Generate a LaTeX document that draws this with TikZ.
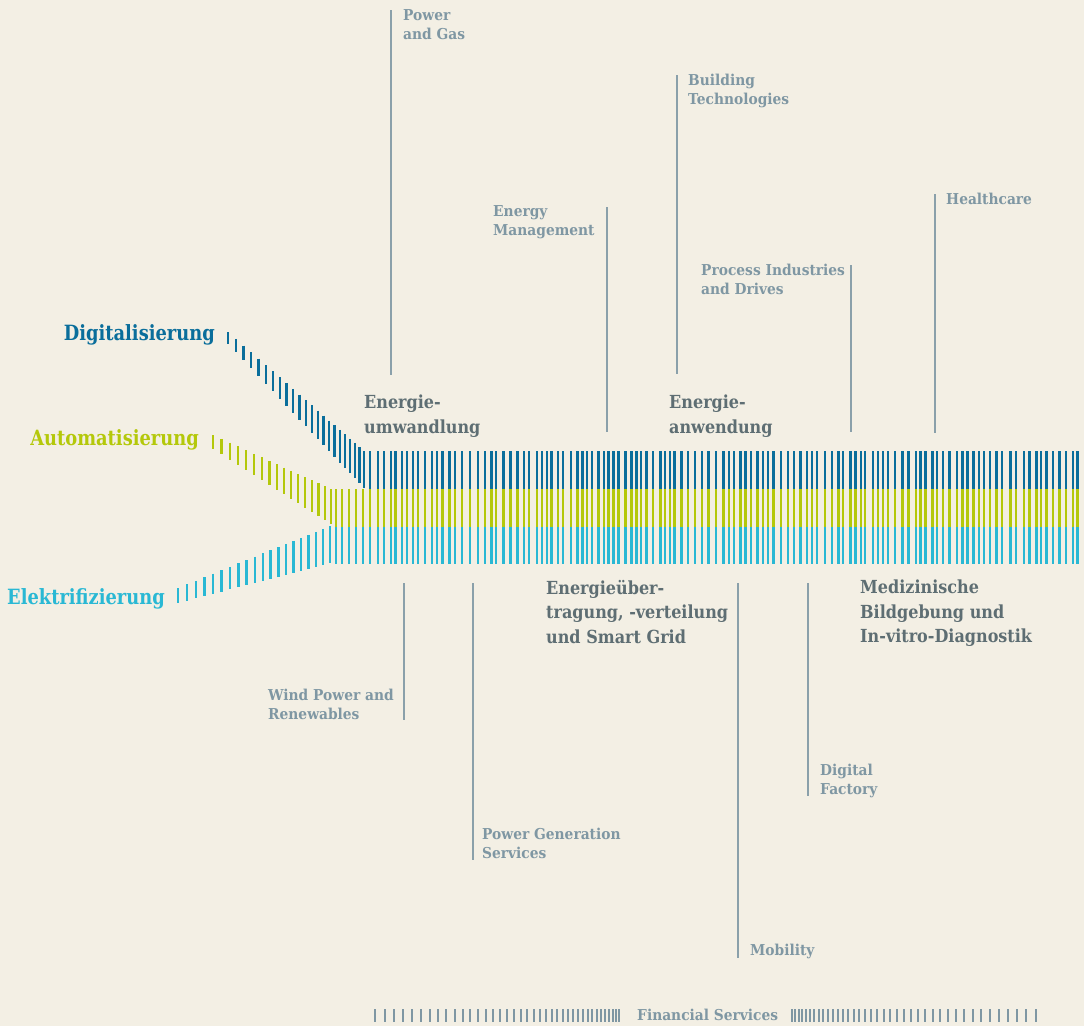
\documentclass[tikz,border=0pt]{standalone}
\usepackage{fontspec}
\setmainfont{DejaVu Serif}[FakeStretch=0.85]
\newfontfamily\smallfam{DejaVu Serif}[FakeStretch=0.92]
\newfontfamily\medfam{DejaVu Serif}[FakeStretch=0.89]
\definecolor{bgc}{HTML}{F3EFE4}
\definecolor{dblue}{HTML}{0A6E9B}
\definecolor{lgreen}{HTML}{B4C80A}
\definecolor{cyanb}{HTML}{29B8D4}
\definecolor{smallc}{HTML}{7F97A3}
\definecolor{medc}{HTML}{5E6E73}
\definecolor{linec}{HTML}{8AA0AA}
\tikzset{
  smalllabel/.style={anchor=north west, inner sep=0pt, align=left, text=smallc,
    font=\smallfam\fontsize{15}{19}\selectfont\bfseries},
  medlabel/.style={anchor=north west, inner sep=0pt, align=left, text=medc,
    font=\medfam\fontsize{18}{24.5}\selectfont\bfseries},
  biglabel/.style={anchor=north east, inner sep=0pt,
    font=\fontsize{21}{25}\selectfont\bfseries},
  leader/.style={draw=linec, line width=1.5pt},
  tick/.style={line width=2.4pt},
  fintick/.style={line width=2pt, draw=smallc}
}
\begin{document}
\begin{tikzpicture}[x=1pt,y=-1pt]
\fill[bgc] (0,0) rectangle (1084,1026);
\useasboundingbox (0,0) rectangle (1084,1026);
\clip (0,0) rectangle (1084,1026);

% ---- diagonal feeds ----
\foreach \k in {0,...,22}{
  \pgfmathsetmacro\t{\k/22}
  \pgfmathsetmacro\f{(9*\t-2*\t*\t)/7}
  \draw[tick,dblue] ({228+136*\f},{332+119*\f}) -- ({228+136*\f},{344+144*\f});
}
\foreach \k in {0,...,16}{
  \pgfmathsetmacro\t{\k/16}
  \pgfmathsetmacro\f{(9*\t-1.25*\t*\t)/7.75}
  \draw[tick,lgreen] ({213+118*\f},{435+54*\f}) -- ({213+118*\f},{449+75*\f});
}
\foreach \k in {0,...,19}{
  \pgfmathsetmacro\t{\k/19}
  \pgfmathsetmacro\f{(9*\t-\t*\t)/8}
  \draw[tick,cyanb] ({178+152*\f},{588-62*\f}) -- ({178+152*\f},{603-40*\f});
}
\foreach \x in {336,342,349,356,363}{
  \draw[tick,lgreen] (\x,489) -- (\x,527);
  \draw[tick,cyanb] (\x,527) -- (\x,564);
}
% ---- main band ----
\pgfmathsetseed{11}
\foreach \i [remember=\nx as \px (initially 363), evaluate=\i as \nx using {\px+4.2+4.2*rnd}] in {1,...,125}{
  \draw[tick,dblue] (\nx,451) -- (\nx,489);
  \draw[tick,lgreen] (\nx,489) -- (\nx,527);
  \draw[tick,cyanb] (\nx,527) -- (\nx,564);
}

% ---- big labels ----
\node[biglabel,text=dblue] (dig) at (215,324) {Digitalisierung};
\node[biglabel,text=lgreen] (aut) at (199,429) {Automatisierung};
\node[biglabel,text=cyanb] (ele) at (165,588) {Elektrifizierung};

% ---- medium labels ----
\node[medlabel] (umw) at (364,395) {Energie-\\umwandlung};
\node[medlabel] (anw) at (669,395) {Energie-\\anwendung};
\node[medlabel] (ueb) at (546,580) {Energieüber-\\tragung, -verteilung\\und Smart Grid};
\node[medlabel] (med) at (860,580) {Medizinische\\Bildgebung und\\In-vitro-Diagnostik};

% ---- small labels and leaders ----
\node[smalllabel] (pg) at (403,9) {Power\\and Gas};
\coordinate (pgA) at (391,10); \coordinate (pgB) at (391,375);
\draw[leader] (pgA) -- (pgB);

\node[smalllabel] (bt) at (688,74) {Building\\Technologies};
\coordinate (btA) at (677,75); \coordinate (btB) at (677,374);
\draw[leader] (btA) -- (btB);

\node[smalllabel] (em) at (493,205) {Energy\\Management};
\coordinate (emA) at (607,207); \coordinate (emB) at (607,432);
\draw[leader] (emA) -- (emB);

\node[smalllabel] (pid) at (701,264) {Process Industries\\and Drives};
\coordinate (pidA) at (851,265); \coordinate (pidB) at (851,432);
\draw[leader] (pidA) -- (pidB);

\node[smalllabel] (hc) at (946,193) {Healthcare};
\coordinate (hcA) at (935,194); \coordinate (hcB) at (935,433);
\draw[leader] (hcA) -- (hcB);

\node[smalllabel] (wp) at (268,689) {Wind Power and\\Renewables};
\coordinate (wpA) at (404,583); \coordinate (wpB) at (404,720);
\draw[leader] (wpA) -- (wpB);

\node[smalllabel] (pgs) at (482,828) {Power Generation\\Services};
\coordinate (pgsA) at (473,583); \coordinate (pgsB) at (473,860);
\draw[leader] (pgsA) -- (pgsB);

\node[smalllabel] (mob) at (750,944) {Mobility};
\coordinate (mobA) at (738,583); \coordinate (mobB) at (738,958);
\draw[leader] (mobA) -- (mobB);

\node[smalllabel] (df) at (820,764) {Digital\\Factory};
\coordinate (dfA) at (808,583); \coordinate (dfB) at (808,796);
\draw[leader] (dfA) -- (dfB);

% ---- financial services ----
\node[smalllabel] (fs) at (637,1009) {Financial Services};
\foreach \k in {0,...,38}{
  \pgfmathsetmacro\xa{375+9.5*\k-6.3*\k*(\k-1)/76}
  \draw[fintick] (\xa,1009) -- (\xa,1022);
  \pgfmathsetmacro\xb{792+3.3*\k+6.4*\k*(\k-1)/76}
  \draw[fintick] (\xb,1009) -- (\xb,1022);
}
\end{tikzpicture}
\end{document}
